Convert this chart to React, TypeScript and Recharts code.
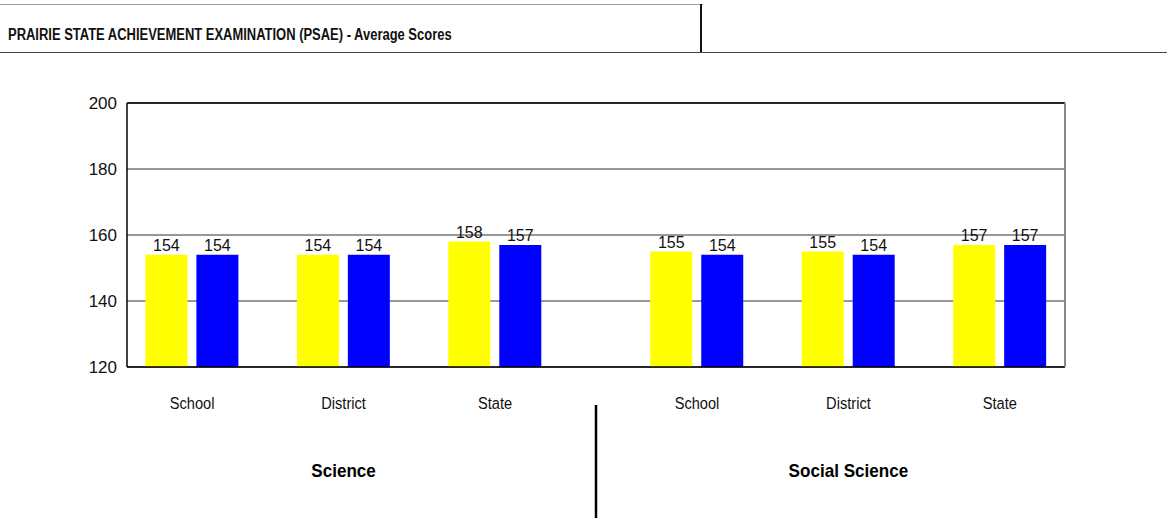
import { Bar, BarChart, CartesianGrid, LabelList, ReferenceLine, XAxis, YAxis } from "recharts";

// PSAE average scores, two series per category, grouped by subject.
const categories = ["School", "District", "State"];
const subjects = ["Science", "Social Science"];
const yellowScores = [154, 154, 158, 155, 155, 157];
const blueScores = [154, 154, 157, 154, 154, 157];
const yTicks = [120, 140, 160, 180, 200];

const FONT = '"Liberation Sans", Arial, sans-serif';
// the source uses a narrow face; squeeze the regular one horizontally
const NARROW = 0.86;

// extra space between subject groups, in category widths
const GROUP_GAP = 1 / 3;
const slot = (g: number, c: number) => g * (categories.length + GROUP_GAP) + c;

const data = subjects.flatMap((subject, g) =>
  categories.map((category, c) => ({
    x: slot(g, c),
    category,
    subject,
    yellow: yellowScores[g * categories.length + c],
    blue: blueScores[g * categories.length + c],
  }))
);

const categoryTicks = data.map((d) => d.x);
const groupMid = subjects.map((_, g) => slot(g, (categories.length - 1) / 2));
const groupBounds = subjects.slice(1).map((_, i) => (slot(i, categories.length - 1) + slot(i + 1, 0)) / 2);
const domain: [number, number] = [-0.43, slot(subjects.length - 1, categories.length - 1) + 0.43];

function CategoryTick({ x, y, payload }: any) {
  const d = data.find((r) => Math.abs(r.x - payload.value) < 1e-6);
  return (
    <text
      transform={`translate(${x},${y + 42}) scale(${NARROW},1)`}
      textAnchor="middle"
      fontSize={17}
      fill="#111"
      fontFamily={FONT}
    >
      {d ? d.category : ""}
    </text>
  );
}

function GroupTick({ x, y, payload }: any) {
  const gi = groupMid.findIndex((v) => Math.abs(v - payload.value) < 1e-6);
  if (gi < 0) {
    return <line x1={x} x2={x} y1={y - 12} y2={y + 101} stroke="#000" strokeWidth={2.5} />;
  }
  return (
    <text
      transform={`translate(${x},${y + 60}) scale(0.95,1)`}
      textAnchor="middle"
      fontSize={18}
      fontWeight="bold"
      fill="#000"
      fontFamily={FONT}
    >
      {subjects[gi]}
    </text>
  );
}

export default function App() {
  return (
    <div style={{ position: "absolute", left: 0, top: 0, width: 1167, height: 518, background: "#fff" }}>
      <div style={{ position: "absolute", left: 0, top: 4, width: 703, height: 1, background: "#999" }} />
      <div style={{ position: "absolute", left: 700, top: 4, width: 2, height: 49, background: "#111" }} />
      <div style={{ position: "absolute", left: 0, top: 52, width: 1167, height: 1, background: "#444" }} />
      <div
        style={{
          position: "absolute",
          left: 8,
          top: 26,
          fontFamily: FONT,
          fontWeight: "bold",
          fontSize: 16,
          color: "#111",
          whiteSpace: "nowrap",
          transform: "scaleX(0.81)",
          transformOrigin: "left center",
        }}
      >
        PRAIRIE STATE ACHIEVEMENT EXAMINATION (PSAE) - Average Scores
      </div>
      <BarChart
        width={1167}
        height={518}
        data={data}
        margin={{ top: 103, right: 0, left: 0, bottom: 0 }}
        barGap={9}
        style={{ position: "absolute", left: 0, top: 0 }}
      >
        <CartesianGrid vertical={false} stroke="#333" />
        <XAxis
          dataKey="x"
          type="number"
          domain={domain}
          ticks={categoryTicks}
          allowDataOverflow
          height={50}
          tickSize={0}
          tickMargin={0}
          tickLine={false}
          axisLine={{ stroke: "#000", strokeWidth: 1.5 }}
          tick={<CategoryTick />}
          interval={0}
        />
        <XAxis
          xAxisId="group"
          dataKey="x"
          type="number"
          domain={domain}
          ticks={[...groupMid, ...groupBounds]}
          allowDataOverflow
          height={101}
          tickSize={0}
          tickMargin={0}
          tickLine={false}
          axisLine={false}
          tick={<GroupTick />}
          interval={0}
        />
        <YAxis
          domain={[120, 200]}
          ticks={yTicks}
          width={127}
          tickLine={false}
          tickSize={0}
          tickMargin={10}
          axisLine={{ stroke: "#000", strokeWidth: 1.5 }}
          tick={{ fontSize: 17, fill: "#111", fontFamily: FONT }}
          interval={0}
        />
        <YAxis
          yAxisId="right"
          orientation="right"
          domain={[120, 200]}
          width={102}
          tick={false}
          tickLine={false}
          axisLine={{ stroke: "#888", strokeWidth: 2 }}
        />
        <ReferenceLine y={200} stroke="#000" strokeWidth={1.5} />
        <Bar dataKey="yellow" fill="#ffff00" barSize={42} isAnimationActive={false}>
          <LabelList dataKey="yellow" position="top" offset={4} fontSize={16} fill="#111" fontFamily={FONT} />
        </Bar>
        <Bar dataKey="blue" fill="#0000ff" barSize={42} isAnimationActive={false}>
          <LabelList dataKey="blue" position="top" offset={4} fontSize={16} fill="#111" fontFamily={FONT} />
        </Bar>
      </BarChart>
    </div>
  );
}
